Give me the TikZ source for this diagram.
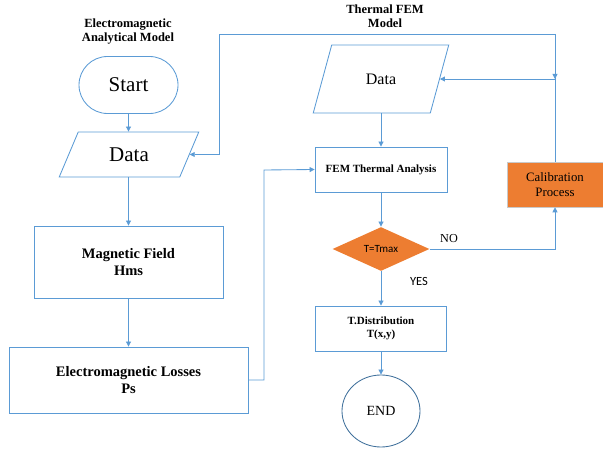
\documentclass[tikz,border=0pt]{standalone}
\usepackage{fontspec}
\setmainfont{Liberation Serif}
\newfontfamily\carlito{Carlito}
\usetikzlibrary{shapes.geometric,arrows.meta,calc}
\definecolor{lblue}{HTML}{5B9BD5}
\definecolor{dblue}{HTML}{41719C}
\definecolor{orng}{HTML}{ED7D31}
\definecolor{gborder}{HTML}{C9C9C9}
\begin{document}
\begin{tikzpicture}[x=1pt,y=-1pt,
  line width=0.85pt,
  arr/.style={draw=lblue,-{Triangle[length=5pt,width=5pt]}},
  ln/.style={draw=lblue},
  boxs/.style={draw=lblue,rectangle,align=center,inner sep=0pt,font=\bfseries},
  datas/.style={draw=lblue,trapezium,trapezium left angle=62,trapezium right angle=118,trapezium stretches=true,inner sep=0pt},
  ttl/.style={align=center,font=\fontsize{12.5}{14}\selectfont\bfseries},
  lbl/.style={inner sep=0pt}
]
\useasboundingbox (0,0) rectangle (603,454);
% titles
\node[ttl] (t1) at (128,32) {Electromagnetic\\Analytical Model};
\node[ttl] (t2) at (385,16) {Thermal FEM\\Model};
% left column
\node[draw=lblue,rectangle,rounded corners=28.5pt,minimum width=99pt,minimum height=57pt,inner sep=0pt,font=\fontsize{21}{24}\selectfont] (start) at (128.5,85) {Start};
\node[datas,minimum width=140pt,minimum height=45pt,font=\fontsize{21}{24}\selectfont] (data1) at (129,154.5) {Data};
\node[boxs,minimum width=189pt,minimum height=72pt,font=\fontsize{14.5}{16.5}\selectfont\bfseries] (mf) at (128.5,262) {Magnetic Field\\Hms};
\node[boxs,minimum width=239pt,minimum height=66pt,font=\fontsize{14.5}{16.5}\selectfont\bfseries] (el) at (128.5,380) {Electromagnetic Losses\\Ps};
% right column
\node[datas,minimum width=136pt,minimum height=68pt,font=\fontsize{16}{18}\selectfont] (data2) at (381,79) {Data};
\node[boxs,minimum width=132pt,minimum height=45pt,font=\fontsize{11}{13}\selectfont\bfseries] (fem) at (381,169.5) {FEM Thermal Analysis};
\node[diamond,fill=orng,draw=none,minimum width=97pt,minimum height=44pt,inner sep=0pt,font=\carlito\fontsize{11}{13}\selectfont,text=black] (dia) at (381,249) {T=Tmax};
\node[boxs,minimum width=131pt,minimum height=45pt,font=\fontsize{11}{13}\selectfont\bfseries] (td) at (381,328.5) {T.Distribution\\T(x,y)};
\node[draw=dblue,ellipse,minimum width=78pt,minimum height=72pt,inner sep=0pt,font=\fontsize{14}{16}\selectfont] (end) at (381,411) {END};
\node[rectangle,fill=orng,draw=gborder,line width=0.6pt,minimum width=96pt,minimum height=45pt,inner sep=0pt,align=center,font=\fontsize{12.8}{15}\selectfont,text=black] (calib) at (555,184.5) {Calibration\\Process};
% labels
\node[lbl,font=\fontsize{12.2}{14}\selectfont] (no) at (449,239) {NO};
\node[lbl,font=\carlito\fontsize{12.5}{14}\selectfont] (yes) at (419,281) {YES};
% coordinates
\coordinate (j1) at (264,170);
\coordinate (k1) at (219,34);
% connectors
\draw[arr] (start.south) -- (start.south |- data1.north);
\draw[arr] (mf.north |- data1.south) -- (mf.north);
\draw[arr] (mf.south) -- (el.north);
\draw[arr] (el.east) -| (j1) -- (fem.west);
\draw[arr] (fem.north |- data2.south) -- (fem.north);
\draw[arr] (fem.south) -- (dia.north);
\draw[arr] (dia.south) -- (td.north);
\draw[arr] (td.south) -- (end.north);
\draw[arr] (dia.east) -| (calib.south);
\draw[arr] (calib.north) |- (k1) |- (data1.east);
\draw[arr] (calib.north |- k1) -- (calib.north |- data2.east);
\draw[arr] (calib.north |- data2.east) -- (data2.east);
\end{tikzpicture}
\end{document}
